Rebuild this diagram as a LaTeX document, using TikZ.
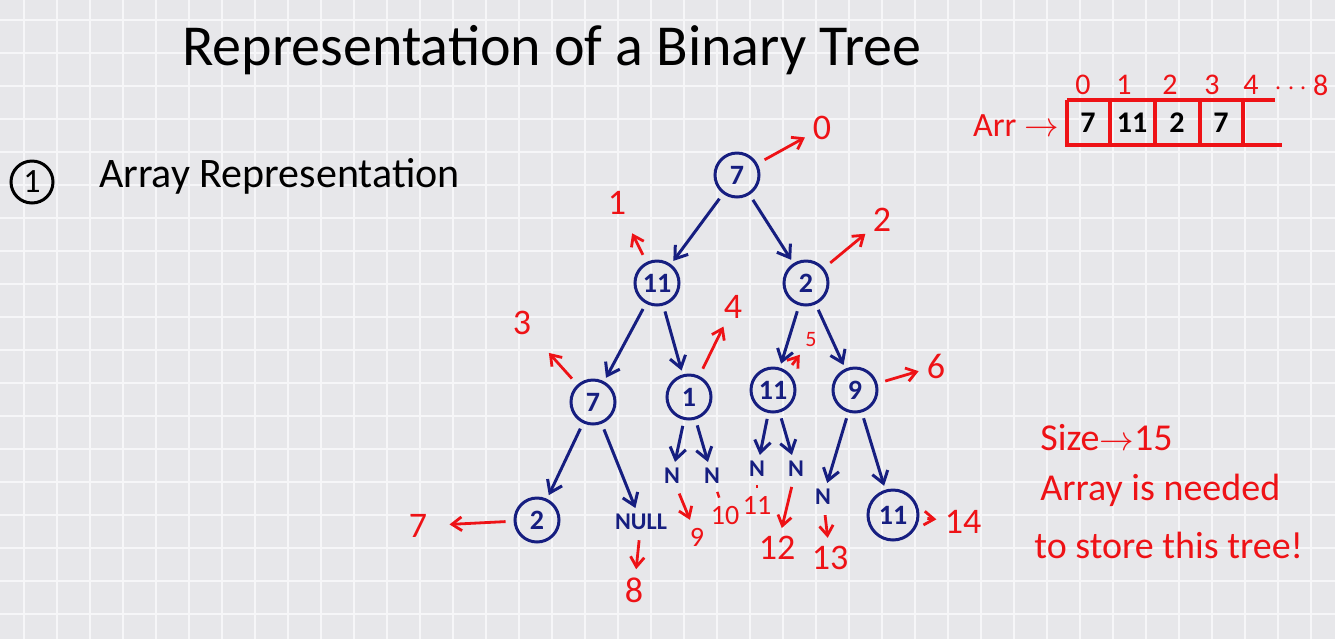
\documentclass[tikz,border=0pt]{standalone}
\usepackage{fontspec}
\setmainfont{Carlito}
\usetikzlibrary{arrows.meta}

\definecolor{inkblue}{RGB}{22,30,128}
\definecolor{inkred}{RGB}{238,18,22}
\definecolor{paper}{RGB}{231,231,234}
\definecolor{paperline}{RGB}{246,246,248}

\newcommand{\fsz}[1]{\fontsize{#1}{#1}\selectfont}

\begin{document}
\begin{tikzpicture}[x=0.5pt, y=-0.5pt,
  gridline/.style={paperline, line width=0.6pt},
  treenode/.style={circle, draw=inkblue, line width=1.5pt, text=inkblue,
    minimum size=22pt, inner sep=0pt, font=\bfseries\fsz{14}},
  nullnode/.style={text=inkblue, inner sep=1pt, font=\bfseries\fsz{12}},
  treeedge/.style={inkblue, line width=1.5pt, -{Straight Barb[length=4pt, angle=70:7pt]},
    shorten <=3pt, shorten >=2pt},
  idxlabel/.style={text=inkred, inner sep=2pt, font=\fsz{18}},
  idxarrow/.style={inkred, line width=1.4pt, -{Straight Barb[length=3pt, angle=70:6pt]},
    shorten <=4pt, shorten >=2pt},
  idxtick/.style={inkred, line width=1.2pt, shorten <=3pt, shorten >=2pt},
  arrline/.style={inkred, line width=1.6pt},
  cellval/.style={font=\bfseries\fsz{15}},
  note/.style={text=inkred, anchor=west, inner sep=0pt, font=\fsz{19}}]

  % paper
  \useasboundingbox (0,0) rectangle (1335,639);
  \fill[paper] (0,0) rectangle (1335,639);
  \foreach \gx in {24,57,...,1335} \draw[gridline] (\gx,0) -- (\gx,639);
  \foreach \gy in {20,53,...,639} \draw[gridline] (0,\gy) -- (1335,\gy);

  % headings
  \node[font=\fsz{29}] (title) at (552,50) {Representation of a Binary Tree};
  \node[circle, draw, line width=1.5pt, minimum size=21pt, inner sep=0pt,
    font=\fsz{17}] (one) at (32,182) {1};
  \node[anchor=west, font=\fsz{21}] (subtitle) at (92,176) {Array Representation};

  % tree
  \node[treenode] (n0) at (737,175) {7};
  \node[treenode] (n1) at (657,283) {11};
  \node[treenode] (n2) at (806,283) {2};
  \node[treenode] (n3) at (593,402) {7};
  \node[treenode] (n4) at (689,397) {1};
  \node[treenode] (n5) at (773,390) {11};
  \node[treenode] (n6) at (855,390) {9};
  \node[treenode] (n7) at (537,520) {2};
  \node[nullnode] (n8) at (641,522) {NULL};
  \node[nullnode] (n9) at (672,476) {N};
  \node[nullnode] (n10) at (712,476) {N};
  \node[nullnode] (n11) at (757,469) {N};
  \node[nullnode] (n12) at (796,469) {N};
  \node[nullnode] (n13) at (823,497) {N};
  \node[treenode, minimum size=25pt] (n14) at (893,515) {11};

  \draw[treeedge] (n0) -- (n1);
  \draw[treeedge] (n0) -- (n2);
  \draw[treeedge] (n1) -- (n3);
  \draw[treeedge] (n1) -- (n4);
  \draw[treeedge] (n2) -- (n5);
  \draw[treeedge] (n2) -- (n6);
  \draw[treeedge] (n3) -- (n7);
  \draw[treeedge] (n3) -- (n8);
  \draw[treeedge] (n4) -- (n9);
  \draw[treeedge] (n4) -- (n10);
  \draw[treeedge] (n5) -- (n11);
  \draw[treeedge] (n5) -- (n12);
  \draw[treeedge] (n6) -- (n13);
  \draw[treeedge] (n6) -- (n14);

  % array indices of the tree
  \node[idxlabel] (i0) at (822,128) {0};
  \node[idxlabel] (i1) at (617,203) {1};
  \node[idxlabel] (i2) at (882,220) {2};
  \node[idxlabel] (i3) at (522,323) {3};
  \node[idxlabel] (i4) at (733,307) {4};
  \node[idxlabel, font=\fsz{11}] (i5) at (811,340) {5};
  \node[idxlabel] (i6) at (936,366) {6};
  \node[idxlabel] (i7) at (418,526) {7};
  \node[idxlabel] (i8) at (634,590) {8};
  \node[idxlabel, font=\fsz{14}] (i9) at (697,537) {9};
  \node[idxlabel, font=\fsz{14}] (i10) at (725,515) {10};
  \node[idxlabel, font=\fsz{14}] (i11) at (757,505) {11};
  \node[idxlabel] (i12) at (777,548) {12};
  \node[idxlabel] (i13) at (830,558) {13};
  \node[idxlabel] (i14) at (963,522) {14};

  \draw[idxarrow] (n0) -- (i0);
  \draw[idxarrow, shorten >=8pt] (n1) -- (i1);
  \draw[idxarrow] (n2) -- (i2);
  \draw[idxarrow, shorten >=10pt] (n3) -- (i3);
  \draw[idxarrow] (n4) -- (i4);
  \draw[idxarrow] (n5) -- (i5);
  \draw[idxarrow] (n6) -- (i6);
  \draw[idxarrow, shorten >=9pt] (n7) -- (i7);
  \draw[idxarrow] (n8) -- (i8);
  \draw[idxarrow] (n9) -- (i9);
  \draw[idxtick] (n10) -- (i10);
  \draw[idxtick] (n11) -- (i11);
  \draw[idxarrow] (n12) -- (i12);
  \draw[idxarrow] (n13) -- (i13);
  \draw[idxarrow] (n14) -- (i14);

  % the array
  \node[text=inkred, anchor=west, font=\fsz{17}] (arr) at (966,126) {Arr $\to$};
  \draw[arrline] (1067,100) -- (1275,100);
  \draw[arrline] (1065,145) -- (1282,145);
  \foreach \cx in {1067,1110,1155,1200,1243}
    \draw[arrline] (\cx,100) -- (\cx,145);
  \node[cellval] (c0) at (1088,123) {7};
  \node[cellval] (c1) at (1132,123) {11};
  \node[cellval] (c2) at (1177,123) {2};
  \node[cellval] (c3) at (1221,123) {7};
  \foreach \k/\kx in {0/1083,1/1124,2/1170,3/1212,4/1251}
    \node[idxlabel, font=\fsz{15}] (a\k) at (\kx,85) {\k};
  \node[idxlabel, font=\fsz{15}, anchor=west] (adots) at (1270,85) {$\cdots$\,8};

  % note
  \node[note] (size) at (1040,438) {Size$\to$15};
  \node[note] (need) at (1040,490) {Array is needed};
  \node[note] (store) at (1034,545) {to store this tree!};
\end{tikzpicture}
\end{document}
